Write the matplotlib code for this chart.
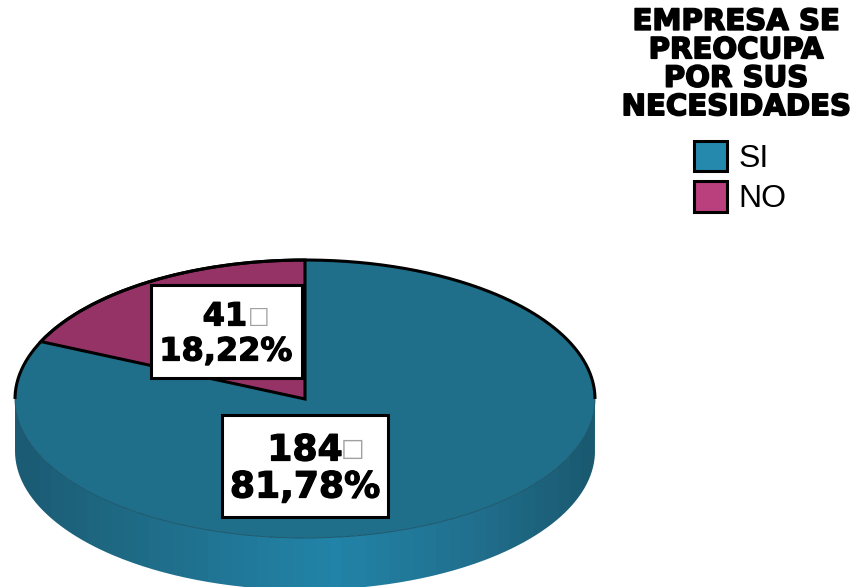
import numpy as np
import matplotlib
matplotlib.use("Agg")
import matplotlib.pyplot as plt
import matplotlib.patheffects as pe
from matplotlib.colors import LinearSegmentedColormap
from matplotlib.patches import Patch, PathPatch
from matplotlib.path import Path

# Survey answers
categories = ["SI", "NO"]
counts = [184, 41]
percent_labels = ["81,78%", "18,22%"]
legend_title = "EMPRESA SE\nPREOCUPA\nPOR SUS\nNECESIDADES"

TOP_COLORS = ["#1F6F8B", "#963366"]
LEGEND_COLORS = ["#2589AE", "#BA3F7D"]

W, H = 857, 587
CX, CY, RX, RY = 305, 399, 290, 139   # ellipse of the disc's top face, in pixels
DEPTH = 52 / RY                       # disc thickness in units of the vertical radius

fig = plt.figure(figsize=(W / 100, H / 100), dpi=100, facecolor="white")
ax = fig.add_axes([0, 0, 1, 1])

# Top face: a unit pie stretched by a non-equal aspect
wedges, _ = ax.pie(counts, colors=TOP_COLORS, startangle=90, counterclock=False,
                   wedgeprops=dict(linewidth=0), radius=1)
for w in wedges:
    w.set_zorder(3)
wedges[1].set(edgecolor="black", linewidth=2.2, joinstyle="miter", zorder=4)

# Side wall of the disc: a banded horizontal gradient clipped to the wall outline
side_cmap = LinearSegmentedColormap.from_list(
    "side", [(0, "#1B5B73"), (0.12, "#1E657F"), (0.55, "#2284A8"),
             (0.8, "#216F8E"), (1, "#1A5A70")], N=48)
theta = np.linspace(np.pi, 2 * np.pi, 300)
rim = np.column_stack([np.cos(theta), np.sin(theta)])
wall = np.vstack([rim, (rim - [0, DEPTH])[::-1], rim[:1]])
wall_patch = PathPatch(Path(wall), facecolor="none", edgecolor="none", transform=ax.transData)
ax.add_patch(wall_patch)
img = ax.imshow(np.linspace(0, 1, 256)[None, :], extent=(-1, 1, -1 - DEPTH - 0.05, 0.05),
                cmap=side_cmap, aspect="auto", zorder=2, interpolation="nearest")
img.set_clip_path(wall_patch)

ax.set_aspect("auto")
ax.set_xlim(-CX / RX, (W - CX) / RX)
ax.set_ylim((CY - H) / RY, CY / RY)
ax.axis("off")

t = np.linspace(0, np.pi, 300)
ax.plot(np.cos(t), np.sin(t), color="black", lw=2.2, solid_capstyle="butt", zorder=5)
t = np.linspace(np.pi, 2 * np.pi, 300)
ax.plot(np.cos(t), np.sin(t), color="#174F63", lw=0.6, zorder=5)

# Overlay in pixel units for the value boxes, title and legend
ov = fig.add_axes([0, 0, 1, 1], facecolor="none")
ov.set_xlim(0, W)
ov.set_ylim(H, 0)
ov.axis("off")

heavy = [pe.withStroke(linewidth=0.9, foreground="black")]
label_layout = [
    dict(box=(222, 415, 166, 102), size=26, num=(305, 450.5), pct=(305, 487.5),
         tofu=(353, 449), tofu_size=18),
    dict(box=(151, 285, 151, 93), size=23, num=(225, 317), pct=(226, 352),
         tofu=(258.5, 316), tofu_size=16.5),
]
for count, pct, lay in zip(counts, percent_labels, label_layout):
    x, y, bw, bh = lay["box"]
    ov.add_patch(plt.Rectangle((x, y), bw, bh, facecolor="white", edgecolor="black",
                               linewidth=2.2, zorder=6))
    ov.text(*lay["num"], str(count), ha="center", va="center", fontsize=lay["size"],
            fontweight="bold", family="DejaVu Sans", color="black", zorder=7,
            path_effects=heavy)
    ov.text(*lay["pct"], pct, ha="center", va="center", fontsize=lay["size"],
            fontweight="bold", family="DejaVu Sans", color="black", zorder=7,
            path_effects=heavy)
    ov.text(*lay["tofu"], "\u25A1", ha="center", va="center", fontsize=lay["tofu_size"],
            family="DejaVu Sans", color="#A0A0A0", zorder=7)

ov.text(736, 64.5, legend_title, ha="center", va="center", multialignment="center",
        family="DejaVu Sans", fontweight="bold", fontsize=21, linespacing=1.02,
        color="black", path_effects=[pe.withStroke(linewidth=1.2, foreground="black")])

handles = [Patch(facecolor=c, edgecolor="black", linewidth=2.2) for c in LEGEND_COLORS]
leg = ov.legend(handles, categories, loc="upper left",
                bbox_to_anchor=(694 / W, 1 - 141 / H), borderaxespad=0, borderpad=0,
                frameon=False, prop=dict(family="Liberation Sans", size=23),
                handlelength=1.03, handleheight=1.08,
                handletextpad=0.37, labelspacing=0.23)
leg.set_zorder(8)

fig.savefig("out.png", dpi=100)
